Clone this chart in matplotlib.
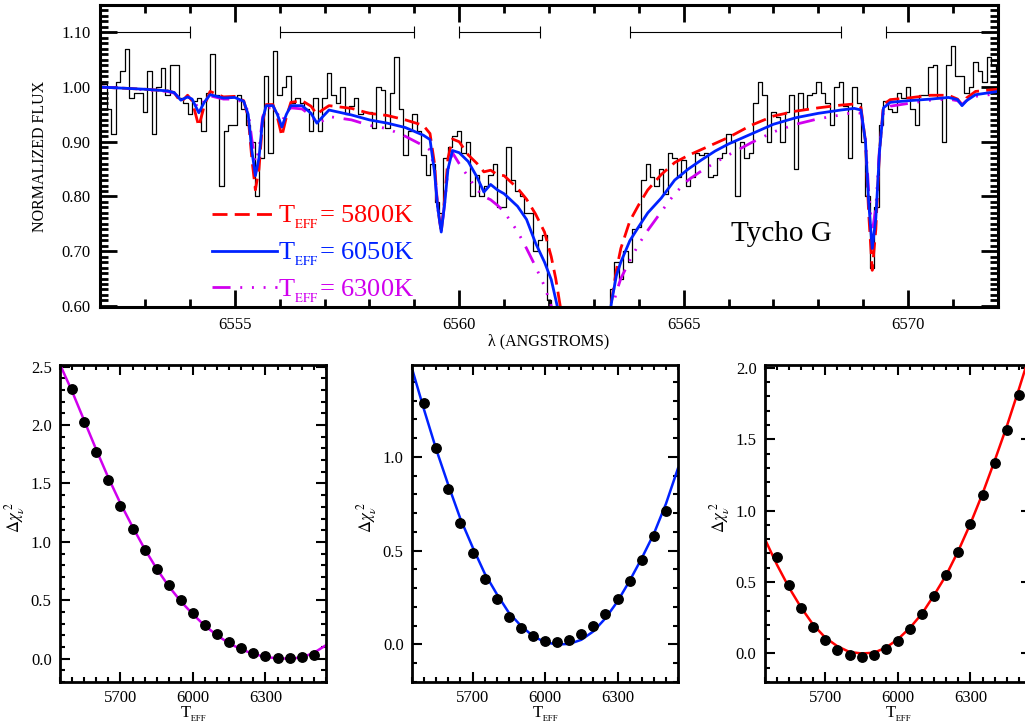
import matplotlib.pyplot as plt
import numpy as np
from matplotlib.ticker import MultipleLocator, FormatStrFormatter

plt.rcParams['font.family'] = ['Liberation Serif', 'DejaVu Serif']
plt.rcParams['mathtext.fontset'] = 'stix'

# observed spectrum of Tycho G, 0.1 A bins starting at 6552.0
spec_start = 6552.0
spec_step = 0.1
spec_flux = [
    1.01, 1.005, 0.96, 0.915, 1.01, 1.03, 1.07, 0.98, 0.99, 0.99,
    0.955, 1.03, 0.915, 1.00, 1.035, 0.985, 1.04, 1.04, 0.98, 0.97,
    0.95, 0.975, 0.98, 0.92, 0.99, 1.06, 0.985, 0.82, 0.92, 0.93,
    0.93, 0.985, 0.96, 0.93, 0.90, 0.80, 0.87, 1.02, 0.88, 1.065,
    0.985, 1.00, 1.02, 0.97, 0.98, 0.97, 0.96, 0.92, 0.98, 0.92,
    0.98, 1.025, 0.985, 0.97, 1.00, 0.95, 0.965, 0.98, 0.95, 0.955,
    0.955, 0.925, 1.00, 0.995, 0.925, 0.99, 1.055, 0.96, 0.875, 0.92,
    0.95, 0.92, 0.875, 0.84, 0.86, 0.79, 0.77, 0.87, 0.89, 0.91,
    0.92, 0.88, 0.90, 0.80, 0.84, 0.80, 0.82, 0.84, 0.86, 0.78,
    0.78, 0.89, 0.83, 0.81, 0.80, 0.77, 0.77, 0.70, 0.72, 0.73,
    0.61, 0.55, 0.50, 0.45, 0.42, 0.40, 0.40, 0.40, 0.40, 0.40,
    0.42, 0.45, 0.50, 0.56, 0.63, 0.68, 0.65, 0.70, 0.68, 0.74,
    0.745, 0.83, 0.86, 0.835, 0.82, 0.85, 0.805, 0.88, 0.87, 0.835,
    0.867, 0.82, 0.835, 0.88, 0.875, 0.88, 0.836, 0.84, 0.87, 0.88,
    0.915, 0.90, 0.80, 0.90, 0.87, 0.88, 0.97, 1.01, 0.985, 0.90,
    0.955, 0.945, 0.90, 0.955, 0.985, 0.85, 0.99, 0.96, 0.985, 0.99,
    1.01, 0.99, 0.97, 0.93, 1.00, 1.01, 0.965, 0.87, 1.00, 0.97,
    0.90, 0.80, 0.67, 0.78, 0.93, 0.975, 0.96, 0.955, 0.99, 0.98,
    1.00, 0.96, 0.93, 0.985, 0.985, 1.037, 1.04, 0.98, 0.90, 1.04,
    1.075, 1.02, 1.02, 0.99, 1.00, 1.045, 1.03, 1.01, 1.055, 1.04,
    1.03]

# synthetic spectra for three temperatures
model_wave = [
    6552.0, 6552.5, 6553.0, 6553.5, 6553.65, 6553.8, 6553.95, 6554.05, 6554.2, 6554.32,
    6554.45, 6554.75, 6555.0, 6555.2, 6555.3, 6555.38, 6555.46, 6555.54, 6555.62, 6555.7,
    6555.85, 6555.95, 6556.05, 6556.15, 6556.25, 6556.5, 6556.7, 6556.83, 6556.95, 6557.1,
    6557.6, 6558.0, 6558.4, 6558.8, 6559.2, 6559.35, 6559.45, 6559.52, 6559.6, 6559.68,
    6559.75, 6559.85, 6560.0, 6560.2, 6560.4, 6560.55, 6560.7, 6560.85, 6561.0, 6561.3,
    6561.5, 6561.7, 6561.9, 6562.05, 6562.15, 6562.25, 6562.35, 6562.6, 6562.9, 6563.2,
    6563.4, 6563.5, 6563.6, 6563.8, 6564.0, 6564.2, 6564.5, 6564.8, 6565.1, 6565.4,
    6565.7, 6566.0, 6566.5, 6567.0, 6567.5, 6568.0, 6568.5, 6568.8, 6568.95, 6569.05,
    6569.12, 6569.2, 6569.28, 6569.36, 6569.45, 6569.6, 6570.0, 6570.5, 6570.9, 6571.1,
    6571.2, 6571.3, 6571.5, 6572.0]

flux_5800 = [
    1.000, 0.998, 0.996, 0.993, 0.990, 0.972, 0.985, 0.975, 0.928, 0.965,
    0.992, 0.982, 0.983, 0.975, 0.945, 0.870, 0.812, 0.850, 0.935, 0.968,
    0.968, 0.945, 0.910, 0.945, 0.972, 0.975, 0.965, 0.950, 0.958, 0.966,
    0.961, 0.952, 0.948, 0.940, 0.930, 0.915, 0.860, 0.780, 0.735, 0.800,
    0.870, 0.905, 0.900, 0.876, 0.860, 0.845, 0.848, 0.840, 0.838, 0.815,
    0.795, 0.768, 0.735, 0.690, 0.650, 0.600, 0.560, 0.460, 0.420, 0.520,
    0.612, 0.665, 0.705, 0.755, 0.785, 0.812, 0.840, 0.862, 0.875, 0.886,
    0.897, 0.908, 0.930, 0.947, 0.956, 0.962, 0.967, 0.969, 0.962, 0.900,
    0.770, 0.665, 0.740, 0.880, 0.968, 0.977, 0.980, 0.985, 0.985, 0.978,
    0.968, 0.980, 0.992, 0.996]

flux_6050 = [
    1.000, 0.998, 0.996, 0.993, 0.990, 0.976, 0.982, 0.978, 0.953, 0.972,
    0.986, 0.980, 0.981, 0.974, 0.950, 0.885, 0.838, 0.870, 0.940, 0.966,
    0.966, 0.950, 0.927, 0.950, 0.966, 0.966, 0.952, 0.934, 0.945, 0.958,
    0.949, 0.940, 0.934, 0.926, 0.912, 0.904, 0.845, 0.780, 0.735, 0.790,
    0.850, 0.884, 0.880, 0.864, 0.835, 0.808, 0.822, 0.812, 0.805, 0.782,
    0.758, 0.715, 0.680, 0.648, 0.612, 0.575, 0.540, 0.450, 0.420, 0.500,
    0.610, 0.655, 0.680, 0.719, 0.745, 0.770, 0.797, 0.830, 0.850, 0.867,
    0.883, 0.896, 0.914, 0.932, 0.944, 0.952, 0.958, 0.961, 0.958, 0.900,
    0.790, 0.705, 0.760, 0.880, 0.962, 0.972, 0.975, 0.978, 0.981, 0.977,
    0.966, 0.975, 0.986, 0.992]

flux_6300 = [
    1.000, 0.998, 0.995, 0.992, 0.989, 0.978, 0.982, 0.978, 0.961, 0.975,
    0.984, 0.978, 0.978, 0.972, 0.955, 0.905, 0.862, 0.885, 0.945, 0.962,
    0.962, 0.952, 0.937, 0.952, 0.962, 0.960, 0.948, 0.934, 0.938, 0.946,
    0.940, 0.930, 0.924, 0.910, 0.893, 0.885, 0.850, 0.780, 0.735, 0.790,
    0.850, 0.880, 0.860, 0.836, 0.812, 0.800, 0.794, 0.784, 0.772, 0.736,
    0.705, 0.672, 0.636, 0.600, 0.570, 0.540, 0.510, 0.440, 0.400, 0.480,
    0.590, 0.625, 0.650, 0.683, 0.713, 0.738, 0.772, 0.805, 0.830, 0.847,
    0.862, 0.876, 0.898, 0.918, 0.932, 0.942, 0.949, 0.954, 0.952, 0.905,
    0.810, 0.735, 0.780, 0.885, 0.955, 0.965, 0.970, 0.976, 0.978, 0.975,
    0.968, 0.975, 0.983, 0.988]

# wavelength windows used in the fit
win_lo = [6552.0, 6556.0, 6560.0, 6563.8, 6569.5]
win_hi = [6554.0, 6559.0, 6561.8, 6568.5, 6572.0]
win_level = 1.10

# delta chi^2 against trial temperature
teff_pts = np.arange(5500, 6501, 50)
teff_fit = np.arange(5450, 6551, 50)

chi_6300_pts = [2.31, 2.03, 1.77, 1.53, 1.31, 1.11, 0.93, 0.77, 0.63, 0.50, 0.39,
                0.29, 0.21, 0.14, 0.09, 0.05, 0.02, 0.006, 0.006, 0.014, 0.035]
chi_6300_fit = [2.52, 2.29, 2.04, 1.79, 1.55, 1.33, 1.13, 0.94, 0.77, 0.62, 0.49, 0.38,
                0.28, 0.20, 0.13, 0.08, 0.04, 0.015, 0.002, 0.0, 0.01, 0.05, 0.115]

chi_6050_pts = [1.286, 1.045, 0.83, 0.646, 0.486, 0.348, 0.241, 0.148, 0.089, 0.045, 0.021,
                0.0125, 0.025, 0.054, 0.098, 0.16, 0.24, 0.34, 0.45, 0.577, 0.714]
chi_6050_fit = [1.47, 1.25, 1.04, 0.85, 0.67, 0.52, 0.38, 0.27, 0.17, 0.10, 0.045, 0.012,
                0.0, 0.003, 0.025, 0.07, 0.14, 0.23, 0.34, 0.46, 0.59, 0.75, 0.94]

chi_5800_pts = [0.678, 0.479, 0.318, 0.187, 0.093, 0.023, -0.009, -0.023, -0.009, 0.03, 0.089,
                0.17, 0.276, 0.404, 0.549, 0.713, 0.907, 1.11, 1.334, 1.568, 1.81]
chi_5800_fit = [0.80, 0.62, 0.46, 0.32, 0.20, 0.11, 0.05, 0.01, 0.0, 0.005, 0.04, 0.10,
                0.18, 0.28, 0.41, 0.55, 0.72, 0.91, 1.12, 1.35, 1.59, 1.85, 2.12]

red = '#ff0000'
blue = '#0022ff'
magenta = '#d000ee'

# tiny subscript, IDL style
teff = r'T$_{_{\rm EFF}}$'


def idl_axes(ax, major_len, minor_len, width, spine):
    ax.minorticks_on()
    ax.tick_params(which='both', direction='in', top=True, right=True, width=width)
    ax.tick_params(which='major', length=major_len)
    ax.tick_params(which='minor', length=minor_len)
    for s in ax.spines.values():
        s.set_linewidth(spine)


fig = plt.figure(figsize=(10.25, 7.23), dpi=100)

# ---- spectrum panel ----
ax = fig.add_axes([0.0976, 0.5754, 0.876, 0.4177])
spec_wave = spec_start + spec_step * np.arange(len(spec_flux))
ax.step(spec_wave, spec_flux, where='mid', color='k', lw=0.9)

l_red, = ax.plot(model_wave, flux_5800, color=red, lw=2.0, ls=(0, (5.4, 2.6)))
l_mag, = ax.plot(model_wave, flux_6300, color=magenta, lw=2.0,
                 ls=(0, (6.5, 3.5, 0.7, 3.5, 0.7, 3.5, 0.7, 3.5)))
l_blue, = ax.plot(model_wave, flux_6050, color=blue, lw=2.0)

win_lo = np.array(win_lo)
win_hi = np.array(win_hi)
ax.errorbar((win_lo + win_hi) / 2, [win_level] * len(win_lo), xerr=(win_hi - win_lo) / 2,
            fmt='none', ecolor='k', elinewidth=0.8, capsize=4, capthick=0.8)

ax.set_xlim(6552, 6572)
ax.set_ylim(0.598, 1.15)
ax.xaxis.set_major_locator(MultipleLocator(5))
ax.yaxis.set_major_locator(MultipleLocator(0.1))
ax.xaxis.set_major_formatter(FormatStrFormatter('%d'))
ax.yaxis.set_major_formatter(FormatStrFormatter('%.2f'))
idl_axes(ax, 12, 6, 2.0, 2.2)
ax.xaxis.set_minor_locator(MultipleLocator(1))
ax.yaxis.set_minor_locator(MultipleLocator(0.01))
ax.tick_params(labelsize=12, pad=7)
ax.set_ylabel('NORMALIZED FLUX', fontsize=11.5)
ax.yaxis.set_label_coords(-0.058, 0.5)
ax.set_xlabel('λ (ANGSTROMS)', fontsize=11.5, va='top')
ax.xaxis.set_label_coords(0.5, -0.086)

ax.text(6566.05, 0.718, 'Tycho G', fontsize=21)

ax.legend([l_red, l_blue, l_mag],
          [teff + '= 5800K', teff + '= 6050K', teff + '= 6300K'],
          loc='upper left', bbox_to_anchor=(0.1247, 0.34), frameon=False,
          fontsize=19, handlelength=2.45, handletextpad=0.05, labelspacing=0.36,
          borderaxespad=0, borderpad=0, labelcolor='linecolor')

# ---- chi^2 panels ----
panels = [
    (0.0585, chi_6300_pts, chi_6300_fit, magenta, 2.515),
    (0.4020, chi_6050_pts, chi_6050_fit, blue, 1.49),
    (0.7463, chi_5800_pts, chi_5800_fit, red, 2.02),
]
for left, pts, fit, col, top in panels:
    bx = fig.add_axes([left, 0.0567, 0.2595, 0.4385])
    bx.plot(teff_fit, fit, color=col, lw=1.8, zorder=2)
    bx.plot(teff_pts, pts, 'o', color='k', ms=6.8, zorder=3)
    bx.set_xlim(5450, 6550)
    bx.set_ylim(-0.2, top)
    bx.xaxis.set_major_locator(MultipleLocator(300))
    bx.yaxis.set_major_locator(MultipleLocator(0.5))
    bx.yaxis.set_major_formatter(FormatStrFormatter('%.1f'))
    idl_axes(bx, 7, 3.5, 1.5, 2.0)
    bx.xaxis.set_minor_locator(MultipleLocator(50))
    bx.yaxis.set_minor_locator(MultipleLocator(0.1))
    bx.tick_params(labelsize=12, pad=6)
    bx.set_ylabel(r'$\Delta\chi_{\nu}^{\ 2}$', fontsize=12)
    bx.yaxis.set_label_coords(-0.125, 0.52)
    bx.set_xlabel(teff, fontsize=12, va='top')
    bx.xaxis.set_label_coords(0.5, -0.072)

fig.savefig('out.png', dpi=100)
